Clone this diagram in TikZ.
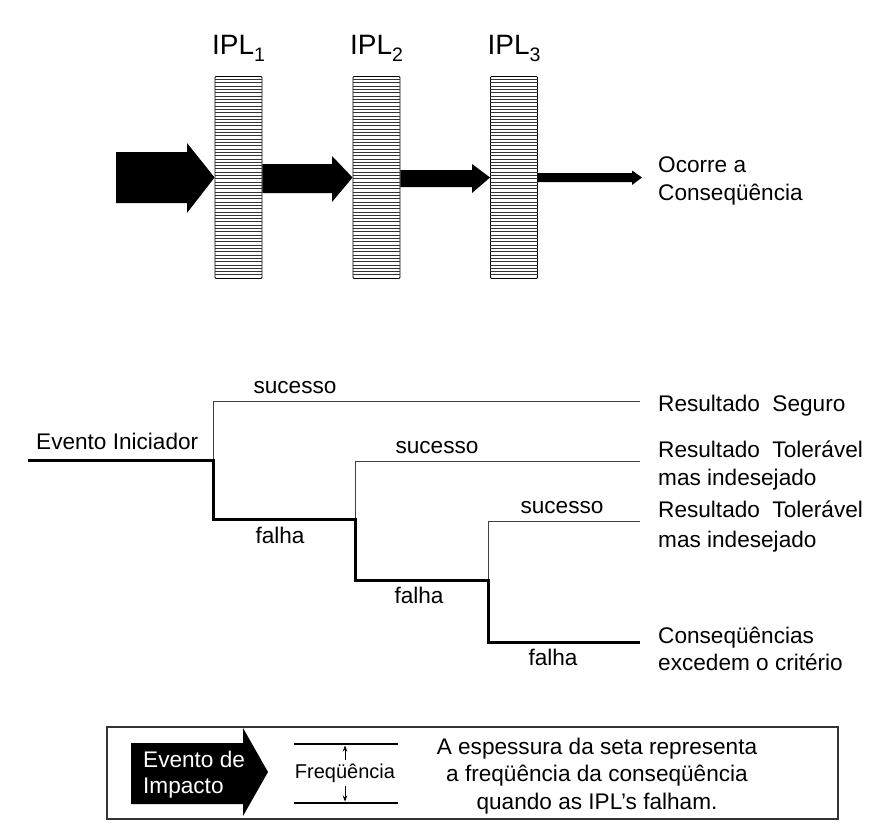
\documentclass[tikz,border=0pt]{standalone}
\usepackage{fontspec}
\setmainfont{Liberation Sans}
\usetikzlibrary{calc,arrows.meta}
\begin{document}
\begin{tikzpicture}[x=1pt,y=-1pt,
  txt/.style={font=\fontsize{22.6}{29}\selectfont, inner sep=0pt},
  ipllbl/.style={font=\fontsize{28}{30}\selectfont, inner sep=0pt, anchor=base},
  iplbar/.style={draw, line width=0.9pt, minimum width=47pt, minimum height=202pt,
                 inner sep=0pt, rounded corners=1pt, fill=white},
  stripe/.style={line width=0.55pt, black!80},
  fail/.style={line width=3pt, line join=miter},
  succ/.style={line width=0.9pt, black!75},
  freqline/.style={line width=2.5pt},
  smallarrow/.style={line width=0.7pt, -{Stealth[length=6pt,width=4.5pt]}}]
\useasboundingbox (0,0) rectangle (877,838);

% ---- protection layers ----
\foreach \i/\x in {1/238.5, 2/376.5, 3/514}{
  \node[iplbar] (ipl\i) at (\x,177.5) {};
  \foreach \k in {1,...,60}
    \draw[stripe] ($(ipl\i.north west)+(0,\k*3.311)$) -- ($(ipl\i.north east)+(0,\k*3.311)$);
  \node[ipllbl] (lbl\i) at ($(ipl\i.north)+(0,-21.5)$)
    {IPL\raisebox{-7pt}{\fontsize{19.5}{20}\selectfont \i}};
}

% ---- arrows of decreasing thickness ----
\fill (116,152) -- (187,152) -- (187,143) -- (ipl1.west) -- (187,213) -- (187,203) -- (116,203) -- cycle;
\fill (ipl1.east |- 0,164) -- (332,164) -- (332,156) -- (ipl2.west) -- (332,202) -- (332,193) -- (ipl1.east |- 0,193) -- cycle;
\fill (ipl2.east |- 0,170) -- (472,170) -- (472,164) -- (ipl3.west) -- (472,193) -- (472,187) -- (ipl2.east |- 0,187) -- cycle;
\fill (ipl3.east |- 0,173) -- (632,173) -- (632,170.5) -- (642,177.5) -- (632,185) -- (632,182) -- (ipl3.east |- 0,182) -- cycle;
% multi-line nodes: the base anchor sits on the last line
\node[txt, anchor=base west, align=left, font=\fontsize{22.6}{28}\selectfont] (cons) at (658,200) {Ocorre a\\Conseqüência};

% ---- event tree ----
\coordinate (ie) at (28,460);
\coordinate (b1) at (213,460);
\coordinate (b2) at (355,519);
\coordinate (b3) at (488,580);
\coordinate (e1) at (640,401);
\coordinate (e2) at (640,461);
\coordinate (e3) at (640,521);
\coordinate (e4) at (640,642);

\draw[succ] (b1) |- (e1);
\draw[succ] (b2) |- (e2);
\draw[succ] (b3) |- (e3);
\draw[fail] (ie) -- (b1) |- (b2) |- (b3) |- (e4);

\node[txt, anchor=base west] (ini) at (36,449) {Evento Iniciador};
\node[txt, anchor=base] (s1) at (295,393) {sucesso};
\node[txt, anchor=base] (s2) at (437,453) {sucesso};
\node[txt, anchor=base] (s3) at (562,513) {sucesso};
\node[txt, anchor=base] (f1) at (280,543) {falha};
\node[txt, anchor=base] (f2) at (419,603) {falha};
\node[txt, anchor=base] (f3) at (553,665) {falha};

\node[txt, anchor=base west] (o1) at (658,411) {Resultado\ \ Seguro};
\node[txt, anchor=base west, align=left, font=\fontsize{22.6}{28}\selectfont] (o2) at (658,485) {Resultado\ \ Tolerável\\mas indesejado};
\node[txt, anchor=base west, align=left, font=\fontsize{22.6}{30}\selectfont] (o3) at (658,547) {Resultado\ \ Tolerável\\mas indesejado};
\node[txt, anchor=base west, align=left, font=\fontsize{22.6}{27}\selectfont] (o4) at (658,670) {Conseqüências\\excedem o critério};

% ---- legend ----
\draw[line width=1.1pt, black!80] (107,727) rectangle (838,819);
\fill (131,743) -- (243,743) -- (243,728) -- (268,772) -- (243,816) -- (243,804) -- (131,804) -- cycle;
\node[txt, anchor=base west, align=left, text=white, font=\fontsize{22.6}{26}\selectfont] (imp) at (143,793) {Evento de\\Impacto};

\coordinate (fa) at (294,744);
\coordinate (fb) at (398,744);
\coordinate (fc) at (294,803);
\coordinate (fd) at (398,803);
\coordinate (ftop) at (345,745.5);
\coordinate (fbot) at (345,801.5);
\draw[freqline] (fa) -- (fb);
\draw[freqline] (fc) -- (fd);
\node[font=\fontsize{20}{20}\selectfont, inner sep=3pt] (fq) at (345,773) {Freqüência};
\draw[smallarrow] (fq.north) -- (ftop);
\draw[smallarrow] (fq.south) -- (fbot);

\node[txt, anchor=base, align=center, font=\fontsize{22.6}{27.5}\selectfont] (note) at (597,809)
  {A espessura da seta representa\\a freqüência da conseqüência\\quando as IPL’s falham.};
\end{tikzpicture}
\end{document}
